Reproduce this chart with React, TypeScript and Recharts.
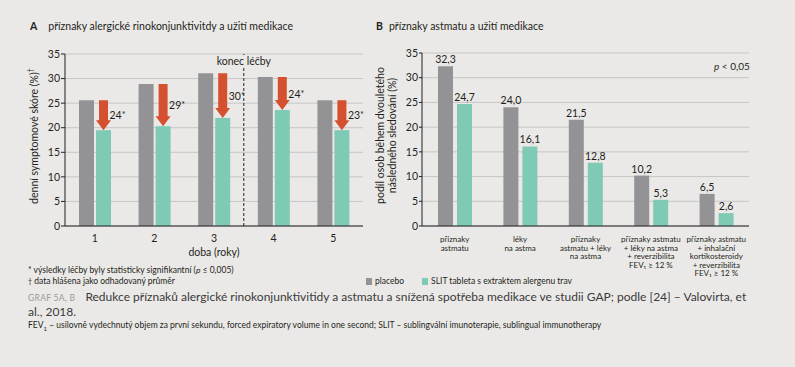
import React from 'react';
import { BarChart, Bar, XAxis, YAxis, CartesianGrid, ReferenceLine, LabelList, Label } from 'recharts';

// --- data ---
const years = ['1', '2', '3', '4', '5'];
const placeboA = [25.6, 28.9, 31.1, 30.3, 25.6];
const slitA = [19.5, 20.3, 22.0, 23.6, 19.5];
const reductionA = [24, 29, 30, 24, 23];

const groupsB = [
  'příznaky\nastmatu',
  'léky\nna astma',
  'příznaky\nastmatu + léky\nna astma',
  'příznaky astmatu\n+ léky na astma\n+ reverzibilita\nFEV₁ ≥ 12 %',
  'příznaky astmatu\n+ inhalační\nkortikosteroidy\n+ reverzibilita\nFEV₁ ≥ 12 %',
];
const placeboB = [32.3, 24.0, 21.5, 10.2, 6.5];
const slitB = [24.7, 16.1, 12.8, 5.3, 2.6];

const yTicks = [0, 5, 10, 15, 20, 25, 30, 35];

const dataA = years.map((year, i) => ({ year, placebo: placeboA[i], slit: slitA[i], red: reductionA[i] }));
const dataB = groupsB.map((group, i) => ({ group, placebo: placeboB[i], slit: slitB[i] }));

const BG = '#ebe9e7';
const INK = '#231f20';
const GRAY = '#939396';
const TEAL = '#7ecab4';
const RED = '#d4502f';
const GRID = '#c6c6c6';
const FONT = 'Lato, "Noto Sans", sans-serif';

const fmt = (v: number) => v.toFixed(1).replace('.', ',');

// teal bar + red arrow from placebo level down to the SLIT level
const ArrowBar = (props: any) => {
  const { x, y, width, height, payload } = props;
  const base = y + height;
  const perUnit = height / payload.slit;
  const topY = base - payload.placebo * perUnit;
  const cx = x + width / 2;
  const sw = 4.5;
  const headH = 10;
  const d = `M${cx - sw},${topY} L${cx + sw},${topY} L${cx + sw},${y - headH} L${x + width},${y - headH} L${cx},${y} L${x},${y - headH} L${cx - sw},${y - headH} Z`;
  return (
    <g>
      <rect x={x} y={y} width={width} height={height} fill={TEAL} />
      <path d={d} fill={RED} />
      <text x={cx + sw + 1.5} y={(topY + y) / 2 + 4} fontSize={10.5} fill={INK} fontFamily={FONT}>
        {payload.red}
        <tspan fontSize={9} dy={-1}>*</tspan>
      </text>
    </g>
  );
};

const MultiTick = (props: any) => {
  const { x, y, payload } = props;
  const lines = String(payload.value).split('\n');
  return (
    <text x={x} y={y} textAnchor="middle" fontSize={8} fill={INK} fontFamily={FONT}>
      {lines.map((l, i) => (
        <tspan key={i} x={x} dy={i === 0 ? 8 : 8.5}>{l}</tspan>
      ))}
    </text>
  );
};

const YLabelA = (props: any) => {
  const vb = props.viewBox;
  const cx = 34;
  const cy = vb.y + vb.height / 2 - 4;
  return (
    <text x={cx} y={cy} transform={`rotate(-90 ${cx} ${cy})`} textAnchor="middle" dominantBaseline="central"
      fontSize={10.5} fill={INK} fontFamily={FONT}>
      denní symptomové skóre (%)<tspan fontSize={7} dy={-4}>†</tspan>
    </text>
  );
};

const YLabelB = (props: any) => {
  const vb = props.viewBox;
  const cy = vb.y + vb.height / 2 - 4;
  const x1 = 10;
  const x2 = 22;
  return (
    <g fontSize={10.5} fill={INK} fontFamily={FONT}>
      <text x={x1} y={cy} transform={`rotate(-90 ${x1} ${cy})`} textAnchor="middle" dominantBaseline="central">podíl osob během dvouletého</text>
      <text x={x2} y={cy} transform={`rotate(-90 ${x2} ${cy})`} textAnchor="middle" dominantBaseline="central">následného sledování (%)</text>
    </g>
  );
};

const EndLabel = (props: any) => {
  const vb = props.viewBox;
  return (
    <g>
      <rect x={vb.x - 4} y={vb.y + 1} width={8} height={12} fill={BG} />
      <text x={vb.x} y={vb.y + 7} textAnchor="middle" dominantBaseline="central" fontSize={10.5} fill={INK} fontFamily={FONT}>
        konec léčby
      </text>
    </g>
  );
};

const tickStyle = { fontSize: 10.5, fill: INK, fontFamily: FONT };

export default function App() {
  return (
    <div style={{ position: 'absolute', left: 0, top: 0, width: 795, height: 367, background: BG, fontFamily: FONT, color: INK, overflow: 'hidden' }}>
      <div style={{ position: 'absolute', left: 30, top: 20, fontSize: 10.5, whiteSpace: 'nowrap' }}>
        <b>A</b><span style={{ marginLeft: 11 }}>příznaky alergické rinokonjunktivitdy a užití medikace</span>
      </div>
      <div style={{ position: 'absolute', left: 376, top: 20, fontSize: 10.5, whiteSpace: 'nowrap' }}>
        <b>B</b><span style={{ marginLeft: 6 }}>příznaky astmatu a užití medikace</span>
      </div>

      <div style={{ position: 'absolute', left: 0, top: 0 }}>
        <BarChart width={370} height={260} data={dataA} margin={{ top: 54, right: 7, left: 0, bottom: 0 }} barGap={2} barSize={15}>
          <CartesianGrid vertical={false} stroke={GRID} />
          <XAxis dataKey="year" height={34} tickLine={false} stroke={INK} tick={tickStyle} tickMargin={3}>
            <Label value="doba (roky)" position="insideBottom" offset={4} style={tickStyle} />
          </XAxis>
          <YAxis width={65} domain={[0, 35]} ticks={yTicks} tickSize={4} tickMargin={1} stroke={INK} tick={tickStyle} interval={0}>
            <Label content={YLabelA} />
          </YAxis>
          <ReferenceLine x="3" position="end" stroke={INK} strokeDasharray="3 2" label={<EndLabel />} />
          <Bar dataKey="placebo" fill={GRAY} isAnimationActive={false} />
          <Bar dataKey="slit" fill={TEAL} isAnimationActive={false} shape={ArrowBar} />
        </BarChart>
      </div>

      <div style={{ position: 'absolute', left: 370, top: 0 }}>
        <BarChart width={425} height={290} data={dataB} margin={{ top: 53, right: 46, left: 0, bottom: 0 }} barGap={4} barSize={15}>
          <CartesianGrid vertical={false} stroke={GRID} />
          <XAxis dataKey="group" height={64} tickLine={false} stroke={INK} tick={<MultiTick />} interval={0} />
          <YAxis width={52} domain={[0, 35]} ticks={yTicks} tickSize={3} tickMargin={1} stroke={INK} tick={tickStyle} interval={0}>
            <Label content={YLabelB} />
          </YAxis>
          <Bar dataKey="placebo" fill={GRAY} isAnimationActive={false}>
            <LabelList dataKey="placebo" position="top" offset={3} formatter={(v: any) => fmt(Number(v))} style={tickStyle} />
          </Bar>
          <Bar dataKey="slit" fill={TEAL} isAnimationActive={false}>
            <LabelList dataKey="slit" position="top" offset={3} formatter={(v: any) => fmt(Number(v))} style={tickStyle} />
          </Bar>
        </BarChart>
      </div>
      <div style={{ position: 'absolute', left: 714, top: 60, fontSize: 10, whiteSpace: 'nowrap' }}>
        <i>p</i> &lt; 0,05
      </div>

      <div style={{ position: 'absolute', left: 28, top: 265, fontSize: 8.5, lineHeight: '11px', whiteSpace: 'nowrap' }}>
        <div>* výsledky léčby byly statisticky signifikantní (<i>p</i> ≤ 0,005)</div>
        <div><span style={{ fontSize: 7 }}>†</span> data hlášena jako odhadovaný průměr</div>
      </div>

      <div style={{ position: 'absolute', left: 366, top: 276, fontSize: 8.5, lineHeight: '11px', whiteSpace: 'nowrap', display: 'flex', alignItems: 'center' }}>
        <span style={{ display: 'inline-block', width: 6, height: 7, background: GRAY, marginRight: 3 }} />
        <span>placebo</span>
        <span style={{ display: 'inline-block', width: 6, height: 7, background: TEAL, marginLeft: 18, marginRight: 3 }} />
        <span>SLIT tableta s extraktem alergenu trav</span>
      </div>

      <div style={{ position: 'absolute', left: 28, top: 290, width: 740, fontSize: 12, lineHeight: '14px', color: '#3a3a3a' }}>
        <div style={{ whiteSpace: 'nowrap' }}>
          <span style={{ fontSize: 8.5, color: '#9a9a9a', letterSpacing: 0.3, marginRight: 10 }}>GRAF 5A, B</span>
          Redukce příznaků alergické rinokonjunktivitidy a astmatu a snížená spotřeba medikace ve studii GAP; podle [24] – Valovirta, et
        </div>
        <div>al., 2018.</div>
      </div>
      <div style={{ position: 'absolute', left: 28, top: 320, fontSize: 8.5, whiteSpace: 'nowrap' }}>
        FEV<sub style={{ fontSize: 6 }}>1</sub> – usilovně vydechnutý objem za první sekundu, forced expiratory volume in one second; SLIT – sublingvální imunoterapie, sublingual immunotherapy
      </div>
    </div>
  );
}
